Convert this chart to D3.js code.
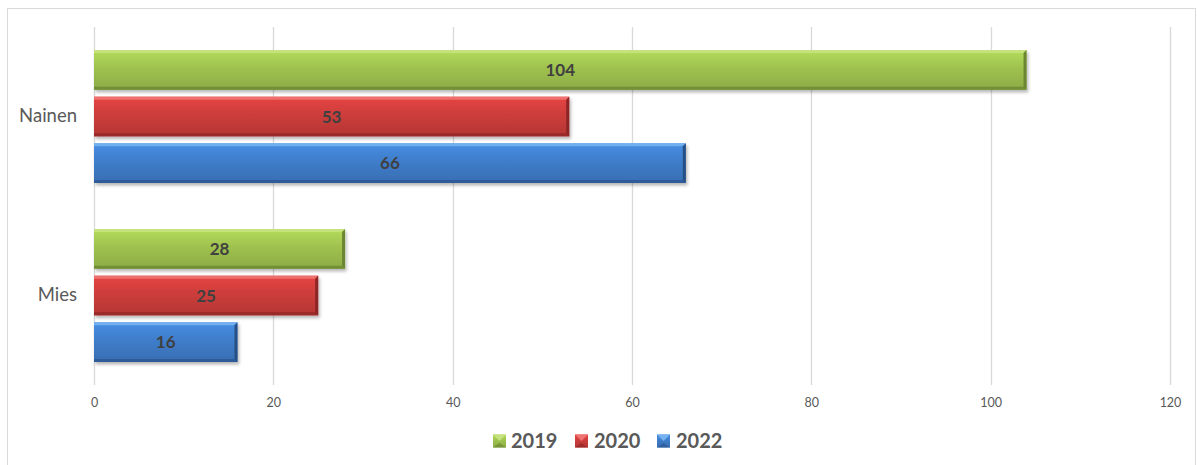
<!DOCTYPE html>
<html>
<head>
<meta charset="utf-8">
<script src="https://cdn.jsdelivr.net/npm/d3@7"></script>
<style>
  html, body { margin: 0; padding: 0; background: #fff; }
  svg { display: block; font-family: Lato, "Open Sans", "DejaVu Sans", sans-serif; }
</style>
</head>
<body>
<svg id="chart" width="1197" height="465"></svg>
<script>
// Categories, series and values
const categories = ["Nainen", "Mies"];
const seriesNames = ["2019", "2020", "2022"];
const values2019 = [104, 28];
const values2020 = [53, 25];
const values2022 = [66, 16];
const xTicks = [0, 20, 40, 60, 80, 100, 120];

const seriesValues = [values2019, values2020, values2022];
const palette = {
  "2019": { light: "#c6e27f", mid: "#9fc24f", dark: "#728f34", edge: "#6b8630" },
  "2020": { light: "#ee7472", mid: "#cc3d3b", dark: "#982a29", edge: "#8c2625" },
  "2022": { light: "#76b2f0", mid: "#3f7dca", dark: "#2d5c9a", edge: "#284f86" }
};

const svg = d3.select("#chart");
const plot = { left: 94, right: 1170, top: 27, bottom: 385 };

// outer frame
svg.append("rect")
  .attr("x", 7.5).attr("y", 8.5)
  .attr("width", 1188).attr("height", 470)
  .attr("fill", "#fff").attr("stroke", "#d9d9d9").attr("stroke-width", 1);

const defs = svg.append("defs");
const shadow = defs.append("filter").attr("id", "shadow")
  .attr("x", "-5%").attr("y", "-20%").attr("width", "110%").attr("height", "150%");
shadow.append("feDropShadow")
  .attr("dx", 1.5).attr("dy", 2.5).attr("stdDeviation", 1.6)
  .attr("flood-color", "#000").attr("flood-opacity", 0.28);

seriesNames.forEach((s, i) => {
  const c = palette[s];
  const g = defs.append("linearGradient").attr("id", "grad" + i)
    .attr("x1", 0).attr("y1", 0).attr("x2", 0).attr("y2", 1);
  g.append("stop").attr("offset", "0%").attr("stop-color", d3.color(c.mid).brighter(0.35));
  g.append("stop").attr("offset", "45%").attr("stop-color", c.mid);
  g.append("stop").attr("offset", "100%").attr("stop-color", d3.color(c.mid).darker(0.35));
});

const x = d3.scaleLinear().domain([0, 120]).range([plot.left, plot.right]);
const y0 = d3.scaleBand().domain(categories).range([plot.top, plot.bottom])
  .paddingInner(0.218).paddingOuter(0.109);
const y1 = d3.scaleBand().domain(seriesNames).range([0, y0.bandwidth()])
  .paddingInner(0.15).paddingOuter(0.075);

// gridlines
svg.append("g").selectAll("line").data(xTicks).join("line")
  .attr("x1", d => Math.round(x(d)) + 0.5).attr("x2", d => Math.round(x(d)) + 0.5)
  .attr("y1", plot.top).attr("y2", plot.bottom)
  .attr("stroke", "#d9d9d9").attr("stroke-width", 1.3);

// x axis labels
const xAxis = d3.axisBottom(x).tickValues(xTicks).tickSize(0).tickPadding(0);
const xg = svg.append("g").attr("transform", `translate(0,${plot.bottom + 13})`).call(xAxis);
xg.select(".domain").remove();
xg.selectAll("text").attr("fill", "#595959").attr("font-size", 12.5)
  .attr("font-family", "Lato, 'Open Sans', sans-serif");

// category labels
const yAxis = d3.axisLeft(y0).tickSize(0).tickPadding(0);
const yg = svg.append("g").attr("transform", `translate(77,0)`).call(yAxis);
yg.select(".domain").remove();
yg.selectAll("text").attr("fill", "#595959").attr("font-size", 18.5)
  .attr("font-family", "Lato, 'Open Sans', sans-serif");

// bevelled bar
function drawBar(g, x0, x1, yTop, h, si, b) {
  const c = palette[seriesNames[si]];
  const yb = yTop + h;
  const grp = g.append("g").attr("filter", "url(#shadow)");
  grp.append("rect").attr("x", x0).attr("y", yTop).attr("width", x1 - x0).attr("height", h)
    .attr("fill", `url(#grad${si})`);
  grp.append("polygon")
    .attr("points", [[x0, yTop], [x1, yTop], [x1 - b, yTop + b], [x0, yTop + b]].join(" "))
    .attr("fill", c.light).attr("opacity", 0.9);
  grp.append("polygon")
    .attr("points", [[x0, yb - b], [x1 - b, yb - b], [x1, yb], [x0, yb]].join(" "))
    .attr("fill", c.dark);
  grp.append("polygon")
    .attr("points", [[x1 - b, yTop + b], [x1, yTop], [x1, yb], [x1 - b, yb - b]].join(" "))
    .attr("fill", c.edge);
}

const barsG = svg.append("g");
categories.forEach((cat, ci) => {
  seriesNames.forEach((s, si) => {
    const v = seriesValues[si][ci];
    const yTop = y0(cat) + y1(s);
    drawBar(barsG, x(0), x(v), yTop, y1.bandwidth(), si, 3);
    barsG.append("text")
      .attr("x", (x(0) + x(v)) / 2)
      .attr("y", yTop + y1.bandwidth() / 2)
      .attr("dy", "0.36em")
      .attr("text-anchor", "middle")
      .attr("font-size", 17).attr("font-weight", "bold")
      .attr("fill", "#404040")
      .text(v);
  });
});

// legend
const legendItems = [
  { name: "2019", sx: 493, tx: 511 },
  { name: "2020", sx: 575, tx: 594 },
  { name: "2022", sx: 657, tx: 676 }
];
const lg = svg.append("g");
legendItems.forEach((d, i) => {
  const c = palette[d.name];
  const s = 13, yT = 434.5;
  lg.append("rect").attr("x", d.sx).attr("y", yT).attr("width", s).attr("height", s)
    .attr("fill", `url(#grad${i})`);
  lg.append("polygon")
    .attr("points", [[d.sx, yT], [d.sx + s, yT], [d.sx + s / 2, yT + s / 2]].join(" "))
    .attr("fill", c.light);
  lg.append("polygon")
    .attr("points", [[d.sx, yT + s], [d.sx + s, yT + s], [d.sx + s / 2, yT + s / 2 + 2]].join(" "))
    .attr("fill", c.dark).attr("opacity", 0.8);
  lg.append("text").attr("x", d.tx).attr("y", 448)
    .attr("font-size", 20).attr("font-weight", "bold").attr("fill", "#595959")
    .text(d.name);
});
</script>
</body>
</html>
